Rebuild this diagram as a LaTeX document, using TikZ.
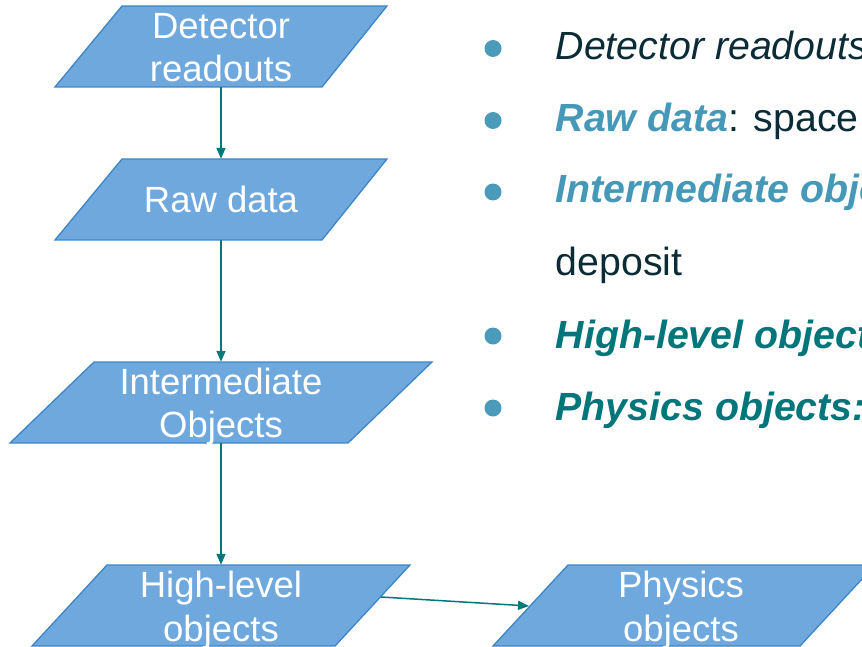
\documentclass[tikz,border=0pt]{standalone}
\usepackage{fontspec}
\setmainfont{Liberation Sans}
\usetikzlibrary{arrows.meta}
\definecolor{boxfill}{HTML}{6FA8DC}
\definecolor{boxline}{HTML}{3D85C6}
\definecolor{flow}{HTML}{00777B}
\definecolor{bulletc}{HTML}{4A9ABA}
\definecolor{termlight}{HTML}{4598B8}
\definecolor{termdark}{HTML}{00757A}
\definecolor{bodytext}{HTML}{0B2B36}
\begin{document}
\begin{tikzpicture}[x=1pt,y=-1pt,
  para/.style={fill=boxfill, draw=boxline, line width=1.3pt, line join=miter},
  hub/.style={inner sep=0pt, minimum width=200pt, minimum height=81pt},
  boxtext/.style={anchor=base, text=white, inner sep=0pt,
    font=\fontsize{36.5pt}{44pt}\selectfont},
  flowarrow/.style={draw=flow, line width=1.5pt, -{Triangle[width=9pt,length=11pt]}},
  bullettext/.style={anchor=base west, inner sep=0pt, text=bodytext,
    font=\fontsize{39.3pt}{47pt}\selectfont},
  dot/.style={fill=bulletc}]
\useasboundingbox (0,0) rectangle (862,647);
\clip (0,0) rectangle (862,647);

% flow chart shapes
\draw[para] (122,6) -- (387,6) -- (322,87) -- (55,87) -- cycle;
\draw[para] (122,159) -- (387,159) -- (322,240) -- (55,240) -- cycle;
\draw[para] (94,362) -- (432,362) -- (348,443) -- (10,443) -- cycle;
\draw[para] (107,565) -- (410,565) -- (335,646) -- (32,646) -- cycle;
\draw[para] (568,565) -- (875,565) -- (800,646) -- (493,646) -- cycle;

% anchors for the connectors
\node[hub] (det)   at (221,46.5)  {};
\node[hub] (raw)   at (221,199.5) {};
\node[hub] (inter) at (221,402.5) {};
\node[hub] (high)  at (221,605.5) {};
\node[hub] (phys)  at (684,605.5) {};
\coordinate (high-out) at (381,597);
\coordinate (phys-in)  at (529,606);

% labels inside the shapes
\node[boxtext] (det1)   at (221,39)  {Detector};
\node[boxtext] (det2)   at (221,82)  {readouts};
\node[boxtext] (raw1)   at (221,213) {Raw data};
\node[boxtext] (inter1) at (221,394) {Intermediate};
\node[boxtext] (inter2) at (221,437.5) {Objects};
\node[boxtext] (high1)  at (221,597.5) {High-level};
\node[boxtext] (high2)  at (221,641) {objects};
\node[boxtext] (phys1)  at (681,597.5) {Physics};
\node[boxtext] (phys2)  at (681,641) {objects};

% connectors
\draw[flowarrow] (det.south) -- (raw.north);
\draw[flowarrow] (raw.south) -- (inter.north);
\draw[flowarrow] (inter.south) -- (high.north);
\draw[flowarrow] (high-out) -- (phys-in);

% bullet list
\fill[dot] (493,48.5)  circle[radius=8.5];
\fill[dot] (493,120.5) circle[radius=8.5];
\fill[dot] (493,192)   circle[radius=8.5];
\fill[dot] (493,336)   circle[radius=8.5];
\fill[dot] (493,408)   circle[radius=8.5];
\node[bullettext] (item1)  at (555.5,60)    {\itshape Detector readouts};
\node[bullettext] (item2)  at (555.5,131.7) {\textcolor{termlight}{\bfseries\itshape Raw data}: space};
\node[bullettext] (item3)  at (555.5,203)   {\textcolor{termlight}{\bfseries\itshape Intermediate objects}};
\node[bullettext] (item3b) at (555.5,275)   {deposit};
\node[bullettext] (item4)  at (555.5,348)   {\textcolor{termdark}{\bfseries\itshape High-level objects}};
\node[bullettext] (item5)  at (555.5,420)   {\textcolor{termdark}{\bfseries\itshape Physics objects:}};
\end{tikzpicture}
\end{document}
